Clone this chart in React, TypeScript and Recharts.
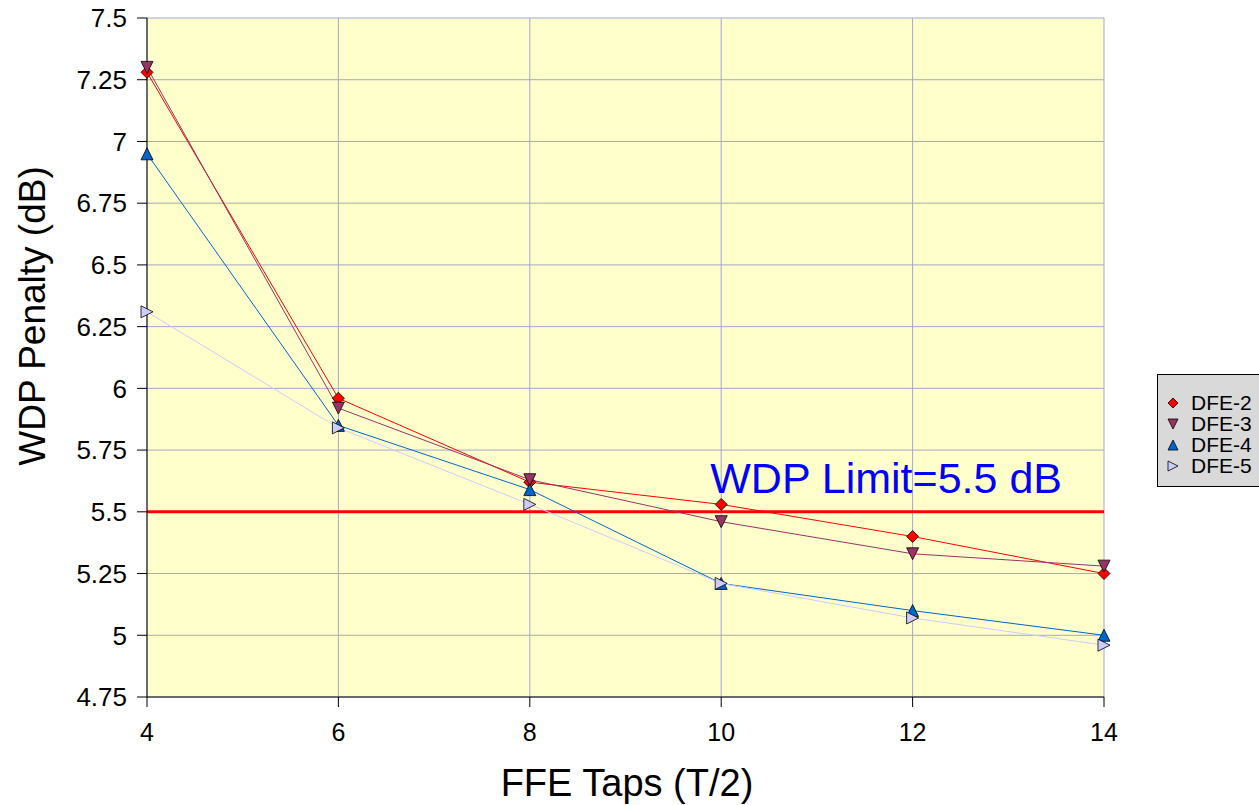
import React from "react";
import {
  CartesianGrid,
  Label,
  Line,
  LineChart,
  ReferenceLine,
  XAxis,
  YAxis,
} from "recharts";

const taps = [4, 6, 8, 10, 12, 14];
const dfe2 = [7.28, 5.96, 5.62, 5.53, 5.4, 5.25];
const dfe3 = [7.3, 5.92, 5.63, 5.46, 5.33, 5.28];
const dfe4 = [6.95, 5.85, 5.59, 5.21, 5.1, 5.0];
const dfe5 = [6.31, 5.84, 5.53, 5.21, 5.07, 4.96];
const yTicks = [4.75, 5, 5.25, 5.5, 5.75, 6, 6.25, 6.5, 6.75, 7, 7.25, 7.5];
const wdpLimit = 5.5;

const data = taps.map((t, i) => ({
  taps: t,
  dfe2: dfe2[i],
  dfe3: dfe3[i],
  dfe4: dfe4[i],
  dfe5: dfe5[i],
}));

type Shape = "diamond" | "down" | "up" | "right";

const series: { key: string; name: string; color: string; shape: Shape }[] = [
  { key: "dfe2", name: "DFE-2", color: "#FF0000", shape: "diamond" },
  { key: "dfe3", name: "DFE-3", color: "#993366", shape: "down" },
  { key: "dfe4", name: "DFE-4", color: "#0066CC", shape: "up" },
  { key: "dfe5", name: "DFE-5", color: "#CCCCFF", shape: "right" },
];

function markerPath(shape: Shape, cx: number, cy: number, r: number) {
  switch (shape) {
    case "diamond":
      return `M${cx},${cy - r}L${cx + r},${cy}L${cx},${cy + r}L${cx - r},${cy}Z`;
    case "down":
      return `M${cx - r},${cy - r}L${cx + r},${cy - r}L${cx},${cy + r}Z`;
    case "up":
      return `M${cx - r},${cy + r}L${cx + r},${cy + r}L${cx},${cy - r}Z`;
    default:
      return `M${cx - r},${cy - r}L${cx + r},${cy}L${cx - r},${cy + r}Z`;
  }
}

const makeDot = (shape: Shape, color: string) => (props: any) => {
  const { cx, cy, index } = props;
  if (cx == null || cy == null) return <g key={index} />;
  return (
    <path
      key={index}
      d={markerPath(shape, cx, cy, 6)}
      fill={color}
      stroke="#000"
      strokeWidth={0.8}
    />
  );
};

const font = "'Liberation Sans', Arial, Helvetica, sans-serif";

export default function App() {
  return (
    <div style={{ position: "absolute", left: 0, top: 0, width: 1259, height: 805, fontFamily: font, background: "#fff", overflow: "hidden" }}>
      <LineChart
        width={1259}
        height={805}
        data={data}
        margin={{ top: 18, right: 155, left: 0, bottom: 8 }}
      >
        <CartesianGrid stroke="#A6A6CF" strokeWidth={1} fill="#FFFFCC" fillOpacity={1} />
        <XAxis
          dataKey="taps"
          type="number"
          domain={[4, 14]}
          ticks={taps}
          height={100}
          tickSize={10}
          tickMargin={16}
          stroke="#000"
          tick={{ fill: "#000", fontSize: 25, fontFamily: font }}
        >
          <Label
            content={() => (
              <text x={627} y={796} textAnchor="middle" fontSize={38} fontFamily={font} fill="#000">
                FFE Taps (T/2)
              </text>
            )}
          />
        </XAxis>
        <YAxis
          type="number"
          domain={[4.75, 7.5]}
          ticks={yTicks}
          width={147}
          tickSize={10}
          tickMargin={10}
          stroke="#000"
          interval={0}
          tick={{ fill: "#000", fontSize: 26, fontFamily: font }}
        >
          <Label
            content={() => (
              <text
                x={45}
                y={316}
                textAnchor="middle"
                fontSize={37}
                fontFamily={font}
                fill="#000"
                transform="rotate(-90 45 316)"
              >
                WDP Penalty (dB)
              </text>
            )}
          />
        </YAxis>
        <ReferenceLine
          y={wdpLimit}
          stroke="#FF0000"
          strokeWidth={3}
          label={{
            value: "WDP Limit=5.5 dB",
            position: "insideBottomRight",
            fill: "#0000FF",
            fontSize: 43,
            fontFamily: font,
            dx: -37,
            dy: -14,
          }}
        />
        {series.map((s) => (
          <Line
            key={s.key}
            dataKey={s.key}
            name={s.name}
            stroke={s.color}
            strokeWidth={1}
            dot={makeDot(s.shape, s.color)}
            activeDot={false}
            isAnimationActive={false}
          />
        ))}
      </LineChart>
      <div
        style={{
          position: "absolute",
          left: 1157,
          top: 374,
          width: 120,
          height: 113,
          background: "#D9D9D9",
          border: "1px solid #000",
          boxSizing: "border-box",
          padding: "17px 0 0 7px",
        }}
      >
        {series.map((s) => (
          <div key={s.key} style={{ display: "flex", alignItems: "center", height: 21, fontSize: 21, color: "#000", whiteSpace: "nowrap" }}>
            <svg width={16} height={16} style={{ marginRight: 10, flexShrink: 0 }}>
              <path d={markerPath(s.shape, 8, 8, 5)} fill={s.color} stroke="#000" strokeWidth={0.8} />
            </svg>
            {s.name}
          </div>
        ))}
      </div>
    </div>
  );
}
